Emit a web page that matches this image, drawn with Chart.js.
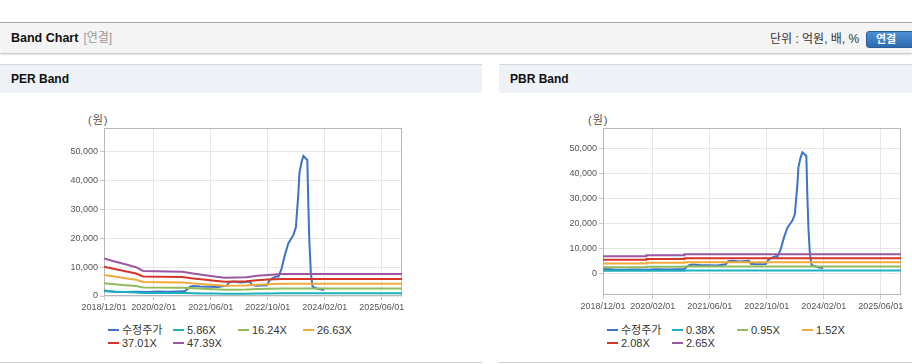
<!DOCTYPE html>
<html lang="ko">
<head>
<meta charset="utf-8">
<title>Band Chart</title>
<script src="https://cdn.jsdelivr.net/npm/chart.js@4/dist/chart.umd.min.js"></script>
<style>
  html, body { margin: 0; padding: 0; background: #fff; }
  body { width: 912px; height: 364px; position: relative; overflow: hidden;
         font-family: "Liberation Sans", Arial, "Noto Sans CJK KR", sans-serif; color: #333; }
  .topbar { position: absolute; left: 0; top: 22px; width: 912px; height: 30px; background: #f4f4f4;
            border-top: 1px solid #aaa; box-shadow: 0 1px 2px rgba(0,0,0,0.28); }
  .title { position: absolute; left: 11px; top: 31px; font-size: 12.5px; font-weight: bold; color: #111; line-height: 15px; }
  .title span { color: #999; font-weight: normal; font-size: 12px; margin-left: 5px; }
  .unit { position: absolute; left: 770px; top: 32px; font-size: 12px; line-height: 15px; color: #333; }
  .btn { position: absolute; left: 866px; top: 31px; width: 52px; height: 17px; border-radius: 3px;
         background: linear-gradient(#4d8fd3, #2c6bb0); border: 1px solid #2a5f9a; box-sizing: border-box;
         color: #fff; font-size: 11px; font-weight: bold; line-height: 15px; padding-left: 9px; }
  .panel { position: absolute; top: 64px; height: 298px; border-bottom: 1px solid #cfcfcf; background: #fff; }
  .panel .head { height: 28px; border-top: 1px solid #d5d9de; background: #eef2f6; font-size: 12px;
                 font-weight: bold; color: #111; line-height: 28px; padding-left: 11px; }
  .unitlabel { position: absolute; top: 111px; font-size: 11px; color: #555; letter-spacing: 1px; }
  canvas { position: absolute; top: 96px; }
  .legend { position: absolute; top: 324px; display: grid; grid-template-columns: repeat(4, 65px);
            grid-auto-rows: 13px; font-size: 11px; color: #333; line-height: 13px; }
  .legend i { display: inline-block; width: 11px; height: 2px; vertical-align: middle; margin-right: 3px; position: relative; top: -1px; }
</style>
</head>
<body>
<div class="topbar"></div>
<div class="title">Band Chart<span>[연결]</span></div>
<div class="unit">단위 : 억원, 배, %</div>
<div class="btn">연결</div>

<div class="panel" style="left:0;width:482px;"><div class="head">PER Band</div></div>
<div class="panel" style="left:499px;width:420px;"><div class="head">PBR Band</div></div>

<div class="unitlabel" style="left:88px;">(원)</div>
<div class="unitlabel" style="left:588px;">(원)</div>

<canvas id="perChart" width="482" height="222" style="left:0;"></canvas>
<canvas id="pbrChart" width="413" height="222" style="left:499px;"></canvas>
<div class="legend" id="perLegend" style="left:108px;"></div>
<div class="legend" id="pbrLegend" style="left:607px;"></div>

<script>
// x축 라벨 / 범위
const tickLabels = ['2018/12/01', '2020/02/01', '2021/06/01', '2022/10/01', '2024/02/01', '2025/06/01'];
const axisStart = '2018/12/01';
const axisEnd = '2025/11/22';
const yTicks = [0, 10000, 20000, 30000, 40000, 50000];

// 수정주가
const priceDates = [
  '2018/12/01', '2019/01/01', '2019/03/01', '2019/06/01', '2019/09/01', '2019/12/01',
  '2020/03/01', '2020/06/01', '2020/09/01', '2020/10/25', '2020/12/07', '2021/01/04',
  '2021/03/01', '2021/05/25', '2021/08/01', '2021/10/16', '2021/11/07', '2021/12/10',
  '2022/02/16', '2022/05/01', '2022/05/16', '2022/06/28', '2022/09/22', '2022/10/19',
  '2022/11/16', '2022/12/16', '2023/01/01', '2023/01/28', '2023/02/25', '2023/03/25',
  '2023/05/07', '2023/05/28', '2023/06/04', '2023/06/19', '2023/06/28', '2023/07/16',
  '2023/08/01', '2023/08/19', '2023/09/04', '2023/09/13', '2023/09/22', '2023/10/04',
  '2023/10/19', '2023/11/22', '2023/12/22', '2024/01/25'
];
const priceValues = [
  1900, 1700, 1500, 1400, 1500, 1400,
  1600, 1500, 1600, 1700, 3200, 3500,
  3300, 3200, 3100, 3600, 4800, 5000,
  4700, 5000, 3800, 3600, 3700, 5600,
  6300, 6800, 6700, 9600, 14200, 18300,
  21200, 23800, 27500, 35700, 42600, 46600,
  48600, 47800, 47200, 31000, 18300, 7900,
  3200, 2700, 2300, 2100
];

// PER 밴드
const perNames = ['수정주가', '5.86X', '16.24X', '26.63X', '37.01X', '47.39X'];
const perBandDates = [
  '2018/12/01', '2019/03/01', '2019/06/01', '2019/09/01', '2019/11/01', '2020/10/01', '2021/01/01',
  '2021/04/01', '2021/07/01', '2021/10/01', '2022/04/01', '2022/07/01', '2022/10/01', '2023/02/01', '2025/11/22'
];
const perBand586  = [1610, 1490, 1360, 1240, 1080, 1040, 970, 910, 840, 780, 810, 870, 905, 940, 940];
const perBand1624 = [4460, 4110, 3770, 3430, 2980, 2880, 2670, 2500, 2330, 2160, 2230, 2400, 2500, 2600, 2600];
const perBand2663 = [7300, 6740, 6180, 5620, 4890, 4720, 4380, 4100, 3820, 3540, 3650, 3930, 4100, 4270, 4270];
const perBand3701 = [10150, 9370, 8590, 7810, 6790, 6560, 6090, 5700, 5310, 4920, 5080, 5470, 5700, 5940, 5940];
const perBand4739 = [13000, 12000, 11000, 10000, 8700, 8400, 7800, 7300, 6800, 6300, 6500, 7000, 7300, 7600, 7600];

// PBR 밴드
const pbrNames = ['수정주가', '0.38X', '0.95X', '1.52X', '2.08X', '2.65X'];
const pbrBandDates = ['2018/12/01', '2019/12/07', '2020/10/28', '2022/04/22', '2025/11/22'];
const pbrBand038 = [900, 980, 1040, 1100, 1100];
const pbrBand095 = [2260, 2450, 2600, 2740, 2740];
const pbrBand152 = [3620, 3930, 4170, 4400, 4400];
const pbrBand208 = [4950, 5380, 5700, 6010, 6010];
const pbrBand265 = [6300, 6850, 7260, 7660, 7660];

const colors = ['#3b74c6', '#1eafc0', '#92bb5d', '#f2aa3c', '#d6352c', '#9a57a2'];

function toMonth(s) {
  const [y, m, d] = s.split('/').map(Number);
  return (y - 2018) * 12 + (m - 12) + (d - 1) / 30.5;
}

function points(dates, values) {
  return dates.map((d, i) => ({ x: toMonth(d), y: values[i] }));
}

// 플롯 테두리
const frame = {
  id: 'frame',
  beforeDatasetsDraw(chart) {
    const a = chart.chartArea, ctx = chart.ctx;
    ctx.save();
    ctx.strokeStyle = '#b8b8b8';
    ctx.lineWidth = 1;
    ctx.strokeRect(a.left + 0.5, a.top + 0.5, a.right - a.left - 1, a.bottom - a.top - 1);
    ctx.restore();
  }
};

function makeChart(id, legendId, names, bandDates, bands, yMin, yMax, padRight, xHeight) {
  const datasets = [{
    label: names[0], data: points(priceDates, priceValues),
    borderColor: colors[0], order: 6
  }];
  bands.forEach((b, i) => {
    datasets.push({
      label: names[i + 1], data: points(bandDates, b),
      borderColor: colors[i + 1], order: 5 - i,
      stepped: id === 'pbrChart' ? 'after' : false
    });
  });
  datasets.forEach(ds => { ds.borderWidth = 2; ds.pointRadius = 0; ds.fill = false; ds.tension = 0; });

  const font = { family: "'Liberation Sans', Arial, 'Noto Sans CJK KR', sans-serif", size: 9 };

  new Chart(document.getElementById(id), {
    type: 'line',
    data: { datasets },
    plugins: [frame],
    options: {
      responsive: false,
      animation: false,
      devicePixelRatio: 1,
      layout: { padding: { top: 32, right: padRight, left: 0, bottom: 0 } },
      plugins: { legend: { display: false }, tooltip: { enabled: false } },
      scales: {
        x: {
          type: 'linear',
          min: toMonth(axisStart), max: toMonth(axisEnd),
          afterBuildTicks: s => { s.ticks = tickLabels.map(t => ({ value: toMonth(t) })); },
          afterFit: s => { s.height = xHeight; },
          ticks: { callback: (v, i) => tickLabels[i], color: '#555', font, padding: 2, maxRotation: 0 },
          grid: { color: '#e6e6e6', tickColor: '#c8c8c8', tickLength: 4 },
          border: { display: false }
        },
        y: {
          min: yMin, max: yMax,
          afterBuildTicks: s => { s.ticks = yTicks.map(v => ({ value: v })); },
          afterFit: s => { s.width = 104; },
          ticks: { callback: v => v.toLocaleString('en-US'), color: '#555', font, padding: 2 },
          grid: { color: '#e6e6e6', tickColor: '#c8c8c8', tickLength: 4 },
          border: { display: false }
        }
      }
    }
  });

  // 범례
  const lg = document.getElementById(legendId);
  names.forEach((n, i) => {
    const item = document.createElement('div');
    item.innerHTML = '<i style="background:' + colors[i] + '"></i>' + n;
    lg.appendChild(item);
  });
}

makeChart('perChart', 'perLegend', perNames, perBandDates,
  [perBand586, perBand1624, perBand2663, perBand3701, perBand4739], 0, 58300, 80, 22);
makeChart('pbrChart', 'pbrLegend', pbrNames, pbrBandDates,
  [pbrBand038, pbrBand095, pbrBand152, pbrBand208, pbrBand265], -8750, 58400, 11, 23);
</script>
</body>
</html>
